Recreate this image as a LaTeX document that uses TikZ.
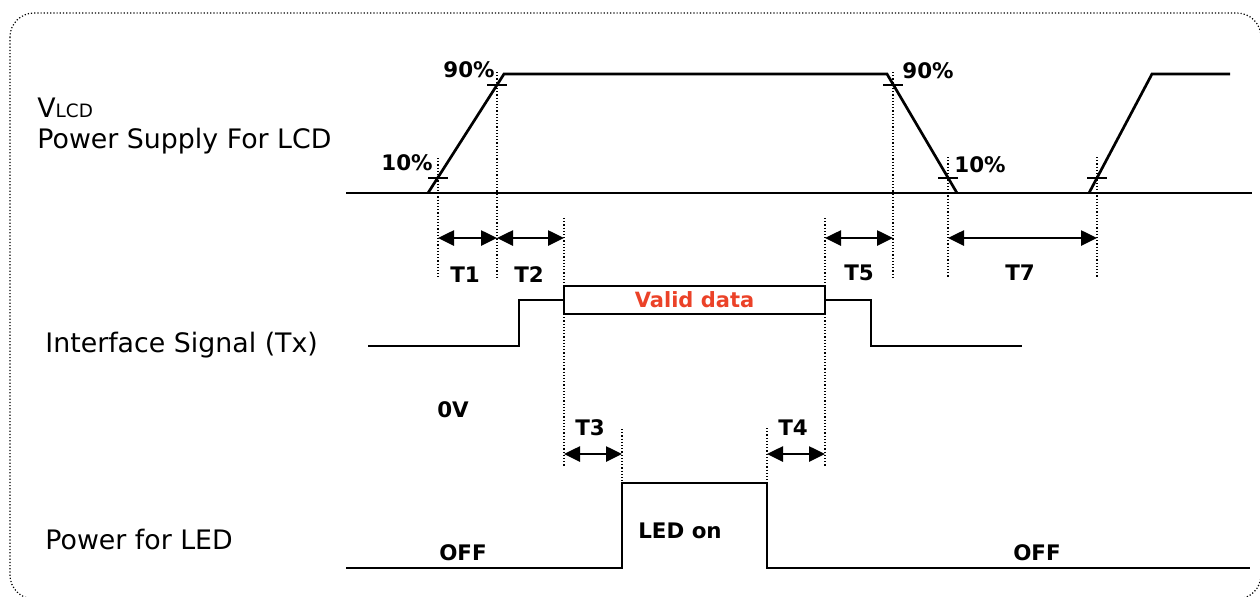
\documentclass[tikz,border=0pt]{standalone}
\usepackage{fontspec}
\setmainfont{DejaVu Sans}
\usetikzlibrary{positioning, arrows.meta}
\definecolor{datared}{RGB}{235,66,40}

\begin{document}
\begin{tikzpicture}[x=0.5pt, y=-0.5pt,
        wave/.style = {line width=1.35pt, line join=miter},
       guide/.style = {line width=0.7pt, dash pattern=on 0.6pt off 1pt},
       notch/.style = {line width=0.7pt},
        span/.style = {{Triangle[length=8pt,width=7.5pt]}-{Triangle[length=8pt,width=7.5pt]},
                       line width=1.3pt},
     rowname/.style = {anchor=base west, inner sep=0pt,
                       font=\fontsize{13.4}{15}\selectfont},
         tag/.style = {inner sep=0pt, font=\fontsize{10.7}{12}\selectfont\bfseries},
      datbox/.style = {draw, line width=1.35pt, minimum width=130.5pt, minimum height=14pt,
                       inner sep=0pt, text=datared, font=\fontsize{10.5}{12}\selectfont\bfseries}
                        ]
\useasboundingbox (0,0) rectangle (1260,596);
\draw[line width=0.6pt, dash pattern=on 0.6pt off 1pt, rounded corners=12pt]
    (10,13) rectangle (1261,599);

% row names
\node (vlcd) [rowname] at (37,117) {V{\fontsize{9.2}{11}\selectfont LCD}};
\node (psu)  [rowname] at (37,148) {Power Supply For LCD};
\node (ifs)  [rowname] at (45,352) {Interface Signal (Tx)};
\node (led)  [rowname] at (45,549) {Power for LED};

% power supply for LCD
\coordinate (b0) at (346,193);
\coordinate (b1) at (1252,193);
\coordinate (up0) at (428,193);
\coordinate (up1) at (504,74);
\coordinate (dn0) at (887,74);
\coordinate (dn1) at (957,193);
\coordinate (re0) at (1089,193);
\coordinate (re1) at (1152,74);
\coordinate (re2) at (1230,74);
\draw[wave] (b0) -- (b1);
\draw[wave] (up0) -- (up1) -- (dn0) -- (dn1);
\draw[wave] (re0) -- (re1) -- (re2);

% 10% / 90% marks
\coordinate (r10) at (438,178);
\coordinate (r90) at (497,85);
\coordinate (f90) at (893,85);
\coordinate (f10) at (948,178);
\coordinate (s10) at (1097,178);
\foreach \m in {r10, r90, f90, f10, s10}
  \draw[notch] ([xshift=-5pt]\m) -- ([xshift=5pt]\m);
\node (p10a) [tag, anchor=east] at (433,163) {10\%};
\node (p90a) [tag, anchor=east] at (495,70)  {90\%};
\node (p90b) [tag, anchor=west] at (902,71)  {90\%};
\node (p10b) [tag, anchor=west] at (954,165) {10\%};

% interface signal
\node (valid) [datbox] at (694.5,300) {Valid data};
\coordinate (i0) at (368,346);
\coordinate (i1) at (519,346);
\coordinate (i2) at (871,346);
\coordinate (i3) at (1022,346);
\draw[wave] (i0) -- (i1) |- (valid.west);
\draw[wave] (valid.east) -| (i2) -- (i3);
\node (zero) [tag] at (453,410) {0V};

% power for LED
\coordinate (l0) at (346,568);
\coordinate (l1) at (622,568);
\coordinate (l2) at (622,483);
\coordinate (l3) at (767,483);
\coordinate (l4) at (767,568);
\coordinate (l5) at (1250,568);
\draw[wave] (l0) -- (l1) -- (l2) -- (l3) -- (l4) -- (l5);
\node (ledon) [tag] at (680,531) {LED on};
\node (off1)  [tag] at (463,553) {OFF};
\node (off2)  [tag] at (1037,553) {OFF};

% guide lines
\coordinate (g1a) at (438,158);  \coordinate (g1b) at (438,277);
\coordinate (g2a) at (497,72);   \coordinate (g2b) at (497,277);
\coordinate (g3a) at (564,218);  \coordinate (g3b) at (564,466);
\coordinate (g4a) at (825,218);  \coordinate (g4b) at (825,466);
\coordinate (g5a) at (893,72);   \coordinate (g5b) at (893,277);
\coordinate (g6a) at (948,157);  \coordinate (g6b) at (948,277);
\coordinate (g7a) at (1097,157); \coordinate (g7b) at (1097,277);
\coordinate (g8a) at (622,429);
\coordinate (g9a) at (767,428);
\foreach \g in {1,...,7}
  \draw[guide] (g\g a) -- (g\g b);
\draw[guide] (g8a) -- (l2);
\draw[guide] (g9a) -- (l3);

% timing spans
\coordinate (a1) at (438,238);
\coordinate (a2) at (497,238);
\coordinate (a3) at (564,238);
\coordinate (a5) at (825,238);
\coordinate (a6) at (893,238);
\coordinate (a7) at (948,238);
\coordinate (a8) at (1097,238);
\coordinate (c1) at (564,454);
\coordinate (c2) at (622,454);
\coordinate (c3) at (767,454);
\coordinate (c4) at (825,454);
\draw[span] (a1) -- (a2);
\draw[span] (a2) -- (a3);
\draw[span] (a5) -- (a6);
\draw[span] (a7) -- (a8);
\draw[span] (c1) -- (c2);
\draw[span] (c3) -- (c4);
\node (t1) [tag] at (465,275)  {T1};
\node (t2) [tag] at (529,275)  {T2};
\node (t5) [tag] at (859,273)  {T5};
\node (t7) [tag] at (1020,273) {T7};
\node (t3) [tag] at (590,428)  {T3};
\node (t4) [tag] at (793,428)  {T4};
\end{tikzpicture}
\end{document}
